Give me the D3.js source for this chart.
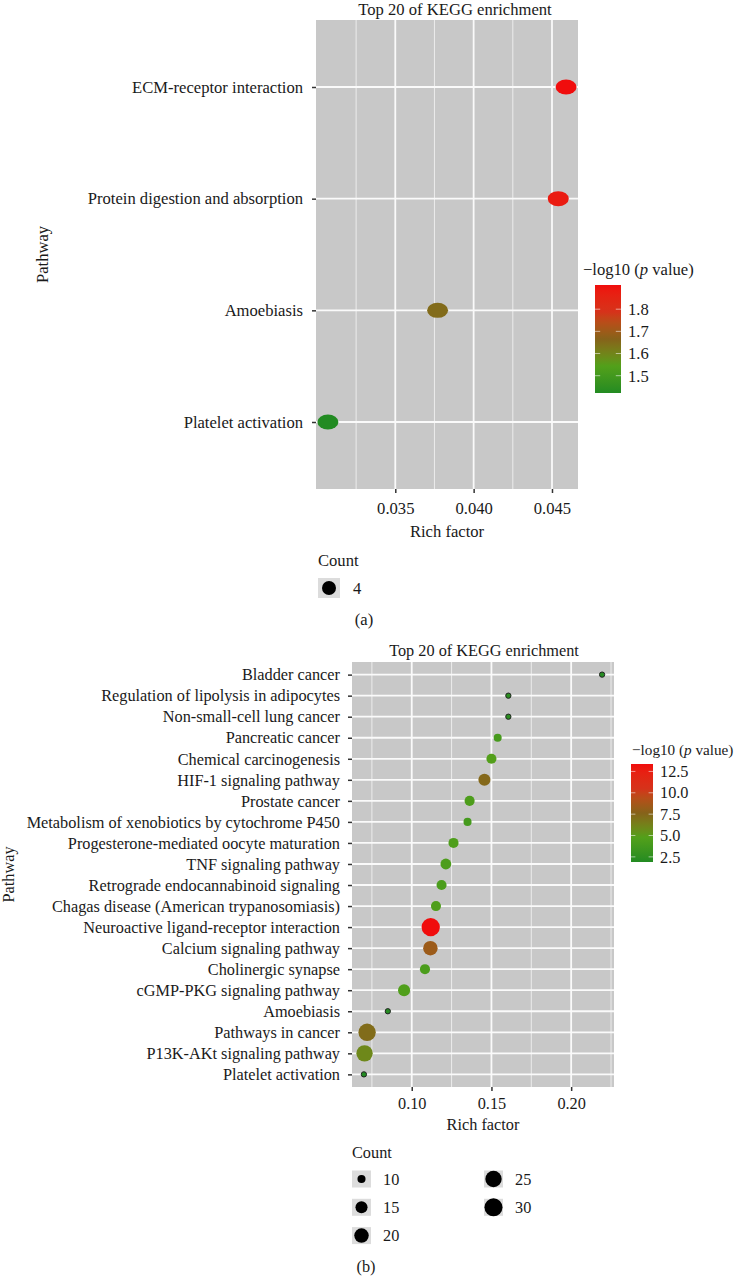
<!DOCTYPE html>
<html><head><meta charset="utf-8">
<script src="https://cdn.jsdelivr.net/npm/d3@7"></script>
<style>
body{margin:0;background:#fff}
svg{display:block}
text{font-family:"Liberation Serif","Times New Roman",serif;fill:#1a1a1a}
</style>
</head><body><svg id="c" width="737" height="1276"></svg>
<script>
// ---------- Panel (a) data ----------
const topPathways = ["ECM-receptor interaction", "Protein digestion and absorption", "Amoebiasis", "Platelet activation"];
const topRich = [0.0459, 0.0454, 0.0377, 0.0307];
const topLogP = [1.909, 1.88, 1.65, 1.422];
const topCount = [4, 4, 4, 4];
const topXTicks = [0.035, 0.040, 0.045];
const topColorTicks = [1.5, 1.6, 1.7, 1.8];
const topCountBreaks = [4];

// ---------- Panel (b) data ----------
const botPathways = ["Bladder cancer", "Regulation of lipolysis in adipocytes", "Non-small-cell lung cancer",
  "Pancreatic cancer", "Chemical carcinogenesis", "HIF-1 signaling pathway", "Prostate cancer",
  "Metabolism of xenobiotics by cytochrome P450", "Progesterone-mediated oocyte maturation",
  "TNF signaling pathway", "Retrograde endocannabinoid signaling", "Chagas disease (American trypanosomiasis)",
  "Neuroactive ligand-receptor interaction", "Calcium signaling pathway", "Cholinergic synapse",
  "cGMP-PKG signaling pathway", "Amoebiasis", "Pathways in cancer", "P13K-AKt signaling pathway", "Platelet activation"];
const botRich = [0.2194, 0.1606, 0.1606, 0.1539, 0.1500, 0.1456, 0.1363, 0.1350, 0.1262, 0.1214,
  0.1187, 0.1152, 0.1119, 0.1117, 0.1083, 0.0952, 0.0850, 0.0720, 0.0704, 0.0700];
const botCount = [9, 9, 9, 10, 12, 15, 12, 10, 12, 13, 12, 12, 31, 20, 12, 15, 9, 28, 25, 9];
const botLogP = [2.1, 2.3, 2.3, 4.0, 4.8, 7.4, 4.4, 3.9, 4.5, 4.4, 4.3, 4.5, 13.37, 8.4, 4.3, 4.6, 2.1, 7.2, 5.9, 1.9];
const botXTicks = [0.10, 0.15, 0.20];
const botColorTicks = [2.5, 5.0, 7.5, 10.0, 12.5];
const botCountBreaks = [10, 15, 20, 25, 30];

const GRADIENT = ["#228B22", "#52A01A", "#86621A", "#D6321A", "#F00D0D"];
const svg = d3.select("#c");
svg.append("rect").attr("width", 737).attr("height", 1276).attr("fill", "#fff");

function expand(ext) { const r = ext[1] - ext[0]; return [ext[0] - 0.05 * r, ext[1] + 0.05 * r]; }

function panel(o) {
  const g = svg.append("g");
  const x = d3.scaleLinear().domain(expand(d3.extent(o.rich))).range([o.x0, o.x1]);
  const y = d3.scalePoint().domain(o.pathways).range([o.y0, o.y1]).padding(0.6);
  const cext = d3.extent(o.logp);
  const color = d3.scaleSequential(d3.piecewise(d3.interpolateLab, GRADIENT)).domain(cext);
  const cmin = d3.min(o.count), cmax = d3.max(o.count);
  const rScale = d3.scaleLinear().domain([0, 1]).range(o.rRange);
  const radius = c => cmax === cmin ? rScale(0.5) : rScale(Math.sqrt(Math.max(0, (c - cmin) / (cmax - cmin))));

  // panel background
  g.append("rect").attr("x", o.x0).attr("y", o.y0).attr("width", o.x1 - o.x0).attr("height", o.y1 - o.y0).attr("fill", "#c8c8c8");
  // minor grid
  const step = o.xticks[1] - o.xticks[0];
  const dom = x.domain();
  const minors = [o.xticks[0] - step / 2].concat(o.xticks.map(t => t + step / 2)).filter(v => v >= dom[0] && v <= dom[1]);
  g.selectAll(".mg").data(minors).join("line").attr("x1", d => x(d)).attr("x2", d => x(d))
    .attr("y1", o.y0).attr("y2", o.y1).attr("stroke", "#ececec").attr("stroke-width", 1);
  // major grid
  g.selectAll(".gx").data(o.xticks).join("line").attr("x1", d => x(d)).attr("x2", d => x(d))
    .attr("y1", o.y0).attr("y2", o.y1).attr("stroke", "#fafafa").attr("stroke-width", 1.8);
  g.selectAll(".gy").data(o.pathways).join("line").attr("y1", d => y(d)).attr("y2", d => y(d))
    .attr("x1", o.x0).attr("x2", o.x1).attr("stroke", "#fafafa").attr("stroke-width", 1.8);

  // points
  const pts = o.pathways.map((p, i) => ({ p, rich: o.rich[i], lp: o.logp[i], c: o.count[i] }));
  if (o.ellipse) {
    g.selectAll(".pt").data(pts).join("ellipse").attr("cx", d => x(d.rich)).attr("cy", d => y(d.p))
      .attr("rx", d => radius(d.c) * 1.5).attr("ry", d => radius(d.c) * 1.07).attr("fill", d => color(d.lp));
  } else {
    g.selectAll(".pt").data(pts).join("circle").attr("cx", d => x(d.rich)).attr("cy", d => y(d.p))
      .attr("r", d => radius(d.c)).attr("fill", d => color(d.lp))
      .attr("stroke", d => radius(d.c) < 3.2 ? "#222" : "none").attr("stroke-width", 1);
  }

  // axes
  const ya = g.append("g").attr("transform", `translate(${o.x0},0)`)
    .call(d3.axisLeft(y).tickSize(4).tickPadding(o.yPad));
  ya.select(".domain").remove();
  ya.selectAll("line").attr("stroke", "#333").attr("stroke-width", 1.5);
  ya.selectAll("text").attr("font-size", o.fs).attr("fill", "#1a1a1a").attr("font-family", "Liberation Serif");

  const xa = g.append("g").attr("transform", `translate(0,${o.y1})`)
    .call(d3.axisBottom(x).tickValues(o.xticks).tickFormat(d3.format(o.fmt)).tickSize(4).tickPadding(o.xPad));
  xa.select(".domain").remove();
  xa.selectAll("line").attr("stroke", "#333").attr("stroke-width", 1.5);
  xa.selectAll("text").attr("font-size", o.fs).attr("fill", "#1a1a1a").attr("font-family", "Liberation Serif");

  // titles
  g.append("text").attr("x", o.titleX).attr("y", o.titleY).attr("text-anchor", "middle").attr("font-size", o.fs)
    .text("Top 20 of KEGG enrichment");
  g.append("text").attr("x", (o.x0 + o.x1) / 2).attr("y", o.xlabY).attr("text-anchor", "middle").attr("font-size", o.fs)
    .text("Rich factor");
  g.append("text").attr("transform", `translate(${o.ylabX},${(o.y0 + o.y1) / 2}) rotate(-90)`)
    .attr("text-anchor", "middle").attr("font-size", o.fs).text("Pathway");

  // colour bar legend
  const cb = o.cbar;
  const gid = "grad" + o.id;
  const grad = svg.append("defs").append("linearGradient").attr("id", gid)
    .attr("x1", 0).attr("y1", 1).attr("x2", 0).attr("y2", 0);
  d3.range(0, 1.0001, 0.05).forEach(t => {
    grad.append("stop").attr("offset", t).attr("stop-color", color(cext[0] + t * (cext[1] - cext[0])));
  });
  const ct = g.append("text").attr("x", cb.titleX).attr("y", cb.titleY).attr("font-size", cb.titleFs);
  ct.append("tspan").text("\u2212log10 (");
  ct.append("tspan").attr("font-style", "italic").text("p");
  ct.append("tspan").text(" value)");
  g.append("rect").attr("x", cb.x).attr("y", cb.y).attr("width", cb.w).attr("height", cb.h).attr("fill", `url(#${gid})`);
  const cy = d3.scaleLinear().domain(cext).range([cb.y + cb.h, cb.y]);
  const tk = g.selectAll(".cbt").data(o.cticks).join("g");
  tk.append("line").attr("x1", cb.x).attr("x2", cb.x + cb.w * 0.2).attr("y1", d => cy(d)).attr("y2", d => cy(d))
    .attr("stroke", "#fff").attr("stroke-opacity", 0.55).attr("stroke-width", 1);
  tk.append("line").attr("x1", cb.x + cb.w * 0.8).attr("x2", cb.x + cb.w).attr("y1", d => cy(d)).attr("y2", d => cy(d))
    .attr("stroke", "#fff").attr("stroke-opacity", 0.55).attr("stroke-width", 1);
  tk.append("text").attr("x", cb.x + cb.w + 7).attr("y", d => cy(d)).attr("dy", "0.35em").attr("font-size", o.fs)
    .text(d => d3.format(o.cfmt)(d));

  // size legend
  const sl = o.slegend;
  g.append("text").attr("x", sl.x).attr("y", sl.titleY).attr("font-size", o.fs).text("Count");
  const items = o.breaks.map((b, i) => ({ b, col: Math.floor(i / sl.perCol), row: i % sl.perCol }));
  const it = g.selectAll(".sl").data(items).join("g")
    .attr("transform", d => `translate(${sl.x + d.col * sl.colW},${sl.y0 + d.row * sl.rowH})`);
  it.append("rect").attr("x", 0).attr("y", -sl.kh / 2).attr("width", sl.kw).attr("height", sl.kh).attr("fill", "#dcdcdc");
  it.append("circle").attr("cx", sl.kw / 2).attr("cy", 0).attr("r", d => radius(d.b)).attr("fill", "#000");
  it.append("text").attr("x", sl.labX).attr("y", 0).attr("dy", "0.35em").attr("font-size", o.fs).text(d => d.b);

  g.append("text").attr("x", o.tagX).attr("y", o.tagY).attr("text-anchor", "middle").attr("font-size", o.fs).text(o.tag);
}

panel({
  id: "a", pathways: topPathways, rich: topRich, logp: topLogP, count: topCount, xticks: topXTicks,
  cticks: topColorTicks, breaks: topCountBreaks, fmt: ".3f", cfmt: ".1f",
  x0: 316, x1: 578, y0: 20, y1: 489, rRange: [4, 10], ellipse: true, fs: 16.6, yPad: 9, xPad: 9,
  titleX: 455, titleY: 15, xlabY: 537, ylabX: 48,
  cbar: { x: 595, y: 285, w: 26, h: 108, titleX: 583, titleY: 275, titleFs: 16.6 },
  slegend: { x: 318, titleY: 566, y0: 588, perCol: 1, rowH: 28, colW: 130, kw: 22, kh: 20, labX: 35 },
  tag: "(a)", tagX: 364, tagY: 625
});

panel({
  id: "b", pathways: botPathways, rich: botRich, logp: botLogP, count: botCount, xticks: botXTicks,
  cticks: botColorTicks, breaks: botCountBreaks, fmt: ".2f", cfmt: ".1f",
  x0: 352, x1: 614, y0: 662, y1: 1087, rRange: [2.65, 9.15], ellipse: false, fs: 16.3, yPad: 8, xPad: 6,
  titleX: 484, titleY: 656, xlabY: 1130, ylabX: 14,
  cbar: { x: 631, y: 764, w: 22, h: 98, titleX: 632, titleY: 755, titleFs: 15.2 },
  slegend: { x: 352, titleY: 1158, y0: 1179, perCol: 3, rowH: 28.3, colW: 132, kw: 19, kh: 17, labX: 31 },
  tag: "(b)", tagX: 366, tagY: 1272
});
</script>
</body></html>
